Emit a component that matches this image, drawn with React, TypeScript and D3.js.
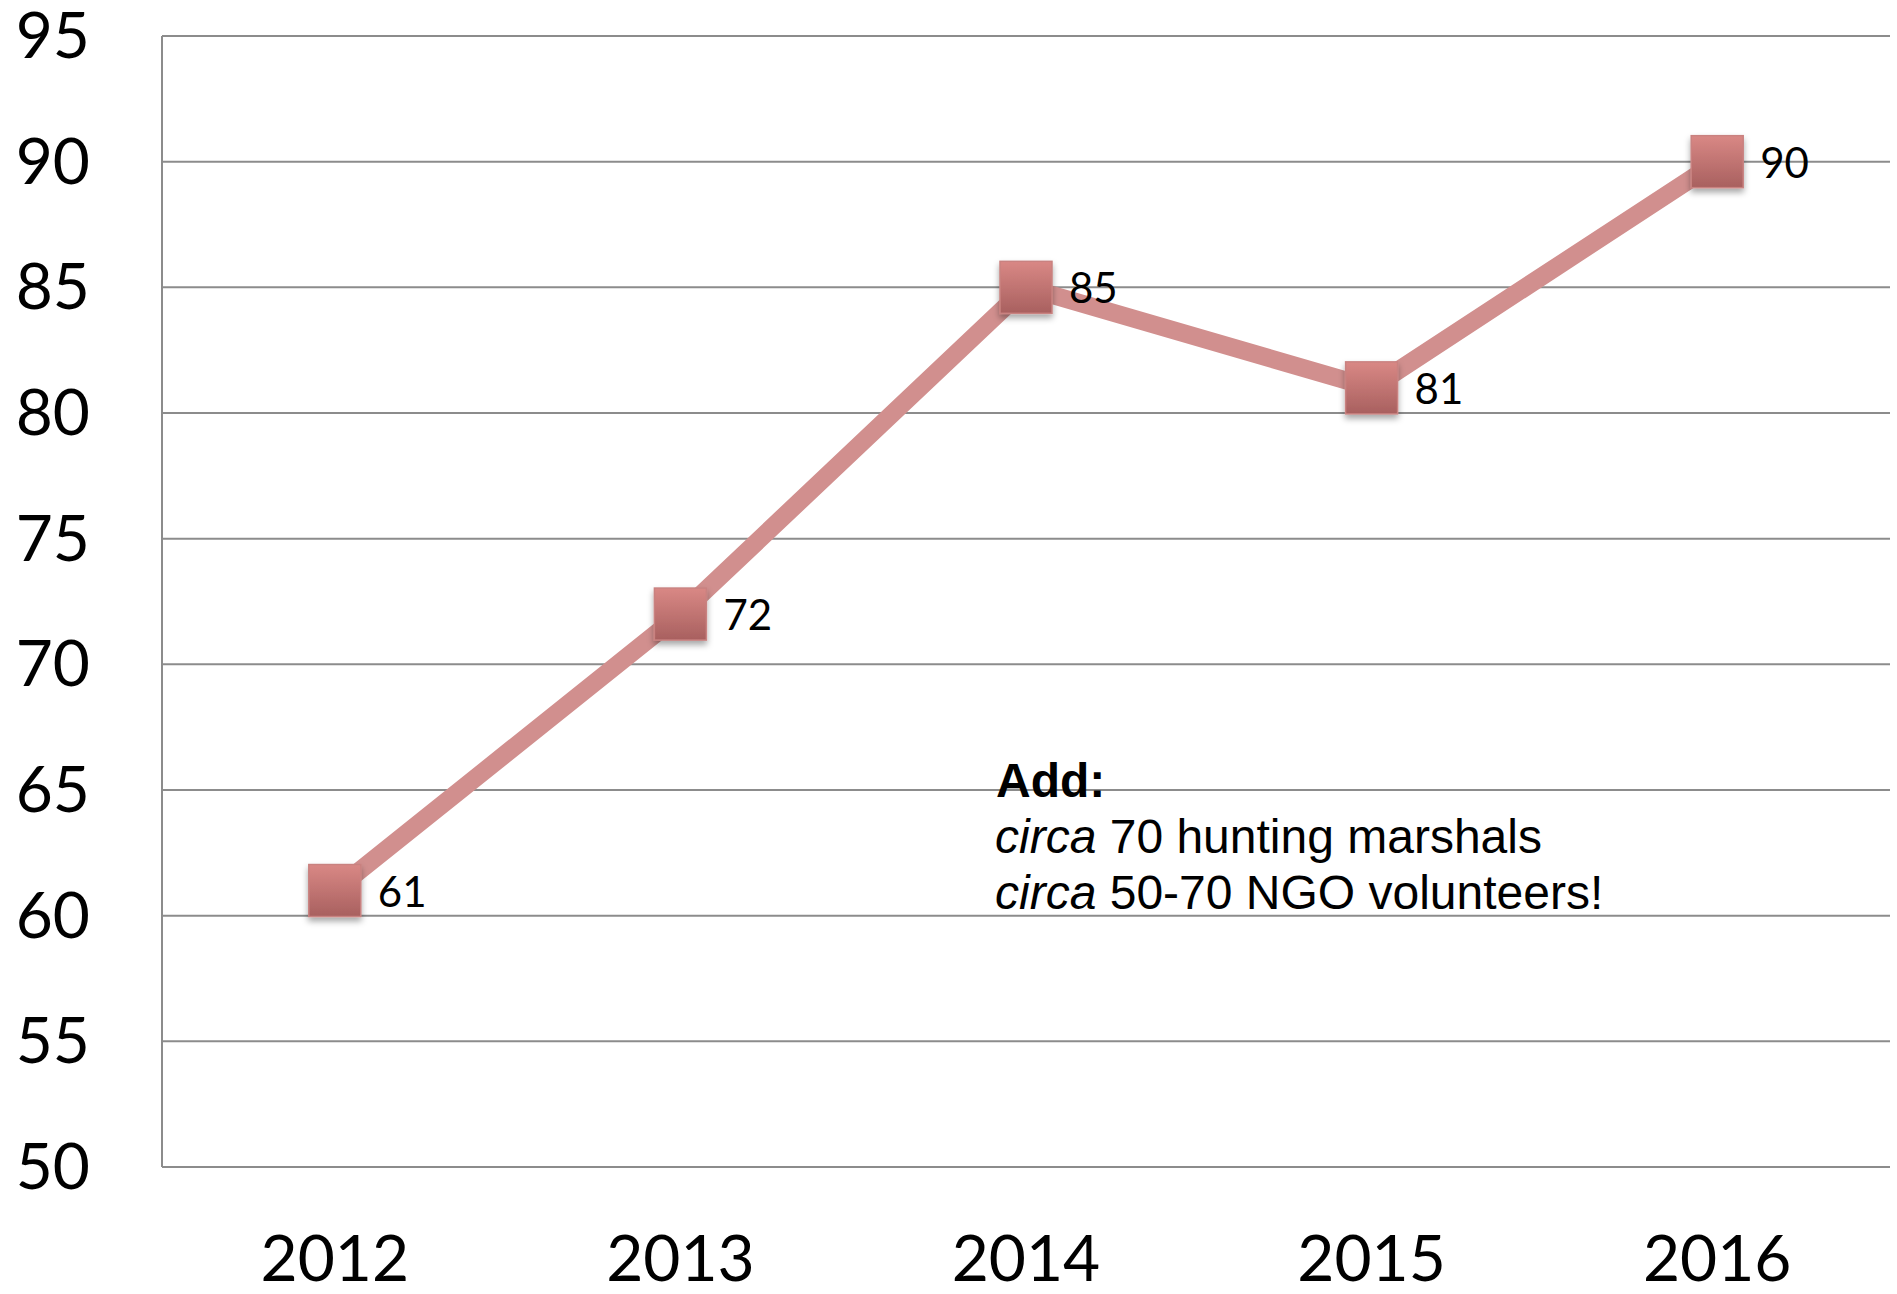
import React from "react";
import * as d3 from "d3";

const years = ["2012", "2013", "2014", "2015", "2016"];
const values = [61, 72, 85, 81, 90];
const yTicks = [50, 55, 60, 65, 70, 75, 80, 85, 90, 95];
const noteTitle = "Add:";
const noteLines = [
  { italic: "circa", rest: " 70 hunting marshals" },
  { italic: "circa", rest: " 50-70 NGO volunteers!" },
];

const W = 1897;
const H = 1294;
const left = 162;
const right = 1890;
const top = 36;
const bottom = 1167;

export default function App() {
  const x = d3.scaleBand<string>().domain(years).range([left, right]).padding(0);
  const y = d3.scaleLinear().domain([50, 95]).range([bottom, top]);
  const cx = (d: string) => (x(d) as number) + x.bandwidth() / 2;
  const pts: [number, number][] = years.map((d, i) => [cx(d), y(values[i])]);
  const line = d3.line()(pts) as string;
  const ms = 52;
  return (
    <svg
      width={W}
      height={H}
      style={{ position: "absolute", left: 0, top: 0, background: "#fff" }}
    >
      <defs>
        <linearGradient id="mk" x1="0" y1="0" x2="0" y2="1">
          <stop offset="0%" stopColor="#d98885" />
          <stop offset="100%" stopColor="#a8605f" />
        </linearGradient>
        <filter id="sh" x="-30%" y="-30%" width="160%" height="170%">
          <feDropShadow dx="0" dy="4" stdDeviation="3" floodColor="#000" floodOpacity="0.35" />
        </filter>
      </defs>
      {yTicks.map((t) => (
        <line key={"g" + t} x1={left} x2={right} y1={y(t)} y2={y(t)} stroke="#8c8c8c" strokeWidth={2} />
      ))}
      <line x1={left} x2={left} y1={top} y2={bottom} stroke="#8c8c8c" strokeWidth={2} />
      {yTicks.map((t) => (
        <text
          key={"yl" + t}
          x={90}
          y={y(t) + 22}
          textAnchor="end"
          fontFamily="Lato, 'Open Sans', sans-serif"
          fontSize={64}
          fill="#000"
        >
          {t}
        </text>
      ))}
      {years.map((d) => (
        <text
          key={"xl" + d}
          x={cx(d)}
          y={1281}
          textAnchor="middle"
          fontFamily="Lato, 'Open Sans', sans-serif"
          fontSize={64}
          fill="#000"
        >
          {d}
        </text>
      ))}
      <path d={line} fill="none" stroke="#d18f8e" strokeWidth={18} strokeLinejoin="round" />
      {pts.map(([px, py], i) => (
        <rect
          key={"m" + i}
          x={px - ms / 2}
          y={py - ms / 2}
          width={ms}
          height={ms}
          fill="url(#mk)"
          stroke="#c98280"
          strokeWidth={1.5}
          filter="url(#sh)"
        />
      ))}
      {pts.map(([px, py], i) => (
        <text
          key={"dl" + i}
          x={px + 43}
          y={py + 16}
          fontFamily="Lato, 'Open Sans', sans-serif"
          fontSize={42}
          fill="#000"
        >
          {values[i]}
        </text>
      ))}
      <g fontFamily="'Liberation Sans', Arial, sans-serif" fontSize={48} fill="#000">
        <text x={996} y={797} fontWeight="bold">{noteTitle}</text>
        {noteLines.map((l, i) => (
          <text key={"n" + i} x={995} y={853 + i * 56}>
            <tspan fontStyle="italic">{l.italic}</tspan>
            <tspan>{l.rest}</tspan>
          </text>
        ))}
      </g>
    </svg>
  );
}
